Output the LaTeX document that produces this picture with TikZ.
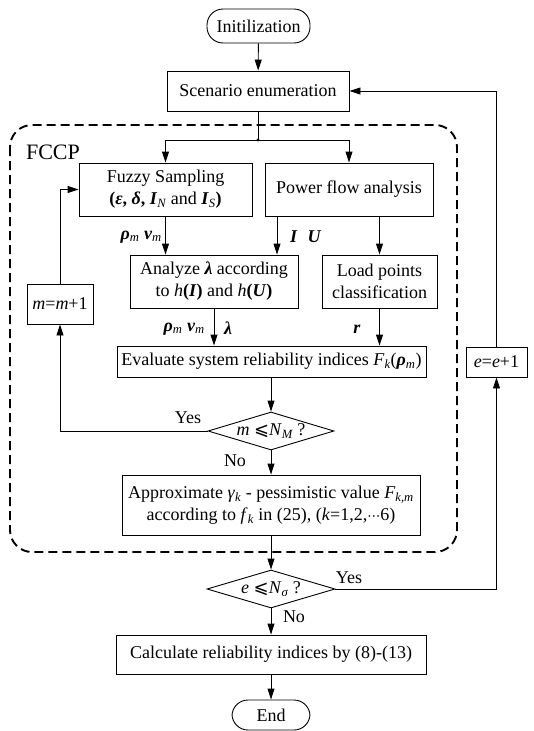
\documentclass[tikz,border=0pt]{standalone}
\usepackage{fontspec}
\setmainfont{Liberation Serif}
\newfontfamily\symfont{DejaVu Sans}
\usetikzlibrary{arrows.meta,shapes.geometric}

\newcommand{\bi}[1]{\textbf{\textit{#1}}}
\newcommand{\lsub}[1]{\textsubscript{\normalfont\itshape #1}}

\tikzset{
  every node/.style={font=\fontsize{18pt}{22pt}\selectfont, inner sep=0pt},
  box/.style={draw, line width=0.9pt, rectangle, align=center},
  term/.style={draw, line width=0.9pt, rectangle, rounded corners=16pt, align=center},
  dia/.style={draw, line width=0.9pt, diamond, inner sep=0pt},
  arr/.style={line width=0.9pt, -{Triangle[length=11pt,width=7pt]}},
  con/.style={line width=0.9pt},
  lbl/.style={font=\fontsize{18pt}{22pt}\selectfont},
  frame/.style={line width=1.9pt, dash pattern=on 9pt off 5pt, rounded corners=22pt}
}

\begin{document}
\begin{tikzpicture}[x=1pt,y=-1pt]
\useasboundingbox (0,0) rectangle (534,731);

% FCCP frame
\draw[frame] (10,125) rectangle (457,552);
\node[lbl, font=\fontsize{22pt}{26pt}\selectfont] (fccp) at (53,152) {FCCP};

% boxes
\node[term, minimum width=103pt, minimum height=34pt] (init) at (258.5,26) {Initilization};
\node[box, minimum width=182pt, minimum height=40pt] (scen) at (258,91) {Scenario enumeration};
\node[box, minimum width=173pt, minimum height=53pt] (fuzzy) at (165.5,189.5)
  {Fuzzy Sampling\\\textbf{(}\bi{ε}\textbf{,} \bi{δ}\textbf{,} \bi{I}\lsub{N} and \bi{I}\lsub{S}\textbf{)}};
\node[box, minimum width=168pt, minimum height=53pt] (pfa) at (349,189.5) {Power flow analysis};
\node[box, minimum width=168pt, minimum height=53pt] (anal) at (214,281.5)
  {Analyze \bi{λ} according\\to \textit{h}\textbf{(}\bi{I}\textbf{)} and \textit{h}\textbf{(}\bi{U}\textbf{)}};
\node[box, minimum width=115pt, minimum height=53pt] (load) at (379.5,281.5) {Load points\\classification};
\node[box, minimum width=66pt, minimum height=40pt] (mbox) at (60,304) {\textit{m}=\textit{m}+1};
\node[box, minimum width=309pt, minimum height=31pt] (eval) at (271.5,361.5)
  {Evaluate system reliability indices \textit{F}\lsub{k}(\bi{ρ}\lsub{m})};
\node[dia, minimum width=126pt, minimum height=38pt] (d1) at (271,431) {};
\node[lbl] (d1t) at (d1) {\textit{m} {\symfont ⩽}\textit{N}\lsub{M} ?};
\node[box, minimum width=298pt, minimum height=60pt] (appr) at (271,505)
  {Approximate \textit{γ}\lsub{k} - pessimistic value \textit{F}\lsub{k,m}\\according to \textit{f}\lsub{k} in (25), (\textit{k}=1,2,{\symfont\fontsize{13pt}{13pt}\selectfont ⋯}6)};
\node[dia, minimum width=128pt, minimum height=38pt] (d2) at (271,589) {};
\node[lbl] (d2t) at (d2) {\textit{e} {\symfont ⩽}\textit{N}\lsub{σ} ?};
\node[box, minimum width=61pt, minimum height=30pt] (ebox) at (496.5,362) {\textit{e}=\textit{e}+1};
\node[box, minimum width=310pt, minimum height=39pt] (calc) at (271,654.5) {Calculate reliability indices by (8)-(13)};
\node[term, minimum width=78pt, minimum height=30pt] (endn) at (271,715) {End};

% connectors
\coordinate (j) at (258,140);
\draw[arr] (init) -- (scen);
\draw[con] (scen.south) -- (j);
\fill (j) circle (1.6pt);
\draw[arr] (j) -| (fuzzy.north);
\draw[arr] (j) -| (pfa.north);
\draw[arr] (fuzzy.south) -- (fuzzy.south |- anal.north);
\coordinate (pfaI) at ([xshift=-72pt]pfa.south);
\draw[arr] (pfaI) -- (pfaI |- anal.north);
\draw[arr] (pfa.south -| load.north) -- (load.north);
\draw[arr] (anal.south) -- (anal.south |- eval.north);
\draw[arr] (load.south) -- (load.south |- eval.north);
\draw[arr] (eval.south -| d1.north) -- (d1.north);
\draw[arr] (d1.west) -| (mbox.south);
\draw[arr] (mbox.north) |- (fuzzy.west);
\draw[arr] (d1.south) -- (appr.north);
\draw[arr] (appr.south) -- (d2.north);
\draw[arr] (d2.east) -| (ebox.south);
\draw[arr] (ebox.north) |- (scen.east);
\draw[arr] (d2.south) -- (calc.north);
\draw[arr] (calc.south) -- (endn.north);

% flow labels
\node[lbl, anchor=east] (l1) at (162,237) {\bi{ρ}\lsub{m} \bi{v}\lsub{m}};
\node[lbl, anchor=west] (l2) at (290,237) {\bi{I}\hspace{10pt}\bi{U}};
\node[lbl, anchor=east] (l3) at (205,329) {\bi{ρ}\lsub{m} \bi{v}\lsub{m}};
\node[lbl, anchor=west] (l4) at (224,328) {\bi{λ}};
\node[lbl] (l5) at (357,329) {\bi{r}};
\node[lbl] (y1) at (188,418) {Yes};
\node[lbl] (n1) at (235,461) {No};
\node[lbl] (y2) at (349,578) {Yes};
\node[lbl] (n2) at (294,617) {No};
\end{tikzpicture}
\end{document}
